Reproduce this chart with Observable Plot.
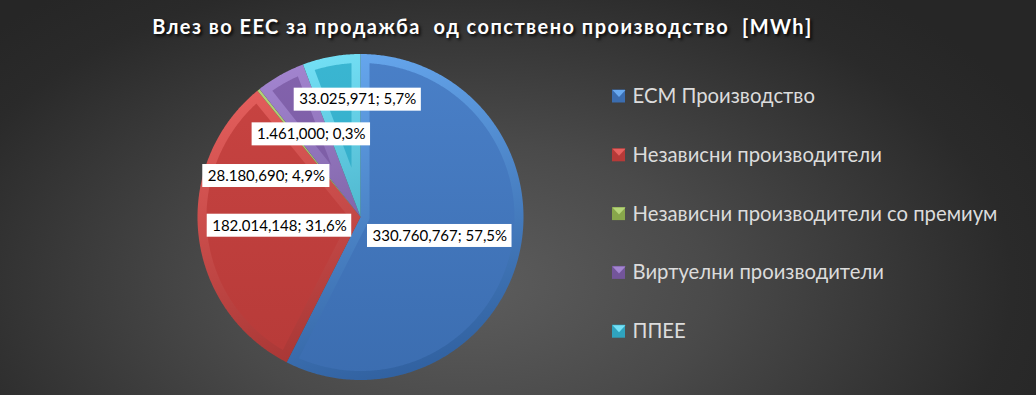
<!DOCTYPE html>
<html><head><meta charset="utf-8">
<script src="https://cdn.jsdelivr.net/npm/d3@7"></script>
<script src="https://cdn.jsdelivr.net/npm/@observablehq/plot@0.6"></script>
<style>
html,body{margin:0;padding:0;width:1036px;height:395px;overflow:hidden;}
body{background: radial-gradient(ellipse 62% 95% at 45% 72%, #5d5d5d 0%, #4a4a4a 38%, #2a2a2a 85%, #262626 100%);}
</style></head><body><div id="chart"></div>
<script>
// ---- data ----
const title = "Влез во ЕЕС за продажба  од сопствено производство  [MWh]";
const categories = ["ЕСМ Производство", "Независни производители", "Независни производители со премиум", "Виртуелни производители", "ППЕЕ"];
const values = [330760767, 182014148, 1461000, 28180690, 33025971];
const valueLabels = ["330.760,767", "182.014,148", "1.461,000", "28.180,690", "33.025,971"];
const percentLabels = ["57,5%", "31,6%", "0,3%", "4,9%", "5,7%"];

// ---- styles / layout ----
const faceTop    = ["#4a80c8", "#c94442", "#9bbb59", "#8363ad", "#3ab6d2"];
const faceBottom = ["#3b6db0", "#b63a38", "#88a74b", "#73559a", "#2fa3be"];
const rimLight   = ["#68a9f0", "#e7605e", "#b5d679", "#a385d0", "#74e0f6"];
const rimDark    = ["#30609f", "#9e302e", "#7d9a43", "#5f4683", "#2a8ea6"];
const W = 1036, H = 395;
const cx = 360, cy = 216.5, R = 163, bevel = 9;
const labelLayout = [{r:0.5, shift:0}, {r:0.5, shift:0}, {r:0.59, shift:8}, {r:0.63, shift:-37}, {r:0.72, shift:9}];
const labelFont = "Lato", labelSize = 15;
const legendX = 612, legendY0 = 96, legendDY = 58.8, sw = 13;

const rad = Math.PI / 180;
const pt = (a, r) => [cx + r * Math.sin(a * rad), cy - r * Math.cos(a * rad)];
const dir = (a) => [Math.sin(a * rad), -Math.cos(a * rad)];

const total = d3.sum(values);
let acc = 0;
const slices = values.map((v, i) => {
  const a0 = acc / total * 360; acc += v; const a1 = acc / total * 360;
  return {i, a0, a1, mid: (a0 + a1) / 2};
});

function arcPts(a0, a1, r, k) {
  const n = Math.max(2, Math.ceil((a1 - a0) / 0.5));
  const out = [];
  for (let j = 0; j <= n; j++) { const [x, y] = pt(a0 + (a1 - a0) * j / n, r); out.push({x, y, k}); }
  return out;
}
function sectorPts(s) {
  return [{x: cx, y: cy, k: s.i}, ...arcPts(s.a0, s.a1, R, s.i)];
}
function facePts(s) {
  const th = s.a1 - s.a0, Ri = R - bevel;
  const d = Math.asin(bevel / Ri) / rad;
  if (th <= 2 * d + 1) return null;
  const pts = arcPts(s.a0 + d, s.a1 - d, Ri, s.i);
  if (th <= 180) {
    const [ux, uy] = dir(s.mid); const L = bevel / Math.sin(th / 2 * rad);
    pts.push({x: cx + ux * L, y: cy + uy * L, k: s.i});
  } else {
    const n = 30;
    for (let j = 0; j <= n; j++) {
      const a = (s.a1 - 90) + ((s.a0 + 90) - (s.a1 - 90)) * j / n;
      const [ux, uy] = dir(a); pts.push({x: cx + ux * bevel, y: cy + uy * bevel, k: s.i});
    }
  }
  return pts;
}

// labels
const canvas = document.createElement("canvas").getContext("2d");
canvas.font = `${labelSize}px ${labelFont}`;
const labels = slices.map(s => {
  const L = labelLayout[s.i];
  const [x, y] = pt(s.mid + L.shift, L.r * R);
  const text = `${valueLabels[s.i]}; ${percentLabels[s.i]}`;
  const w = canvas.measureText(text).width;
  return {x, y, text, x1: x - w / 2 - 5, x2: x + w / 2 + 5, y1: y - 11.5, y2: y + 11.5};
});

// legend
const legend = categories.map((c, i) => ({i, name: c, x: legendX, y: legendY0 + i * legendDY}));
const swatchSq = legend.map(d => ({x1: d.x, x2: d.x + sw, y1: d.y - sw / 2, y2: d.y + sw / 2, i: d.i}));
const swatchTri = legend.map(d => [
  {x: d.x, y: d.y - sw / 2}, {x: d.x + sw, y: d.y - sw / 2}, {x: d.x + sw / 2, y: d.y + 0.5}
]);

const marks = [];
slices.forEach(s => {
  marks.push(Plot.line(sectorPts(s), {x: "x", y: "y", fill: `url(#rim${s.i})`, stroke: "none"}));
  const f = facePts(s);
  if (f) marks.push(Plot.line(f, {x: "x", y: "y", fill: `url(#face${s.i})`, stroke: "none"}));
});
marks.push(Plot.rect(labels, {x1: "x1", x2: "x2", y1: "y1", y2: "y2", fill: "white"}));
marks.push(Plot.text(labels, {x: "x", y: "y", text: "text", fontSize: labelSize, fontFamily: labelFont, fill: "black"}));
swatchSq.forEach((d) => marks.push(Plot.rect([d], {x1: "x1", x2: "x2", y1: "y1", y2: "y2", fill: faceBottom[d.i]})));
swatchTri.forEach((t, i) => marks.push(Plot.line(t, {x: "x", y: "y", fill: rimLight[i], stroke: "none"})));
marks.push(Plot.text(legend, {x: d => d.x + 20, y: "y", text: "name", textAnchor: "start", fontSize: 20.3, fontFamily: "Lato", fill: "#dcdcdc"}));
marks.push(Plot.text([title], {x: () => 482, y: () => 27, text: d => d, fontSize: 20, fontWeight: "bold", fontFamily: "Lato", fill: "white"}));

const svg = Plot.plot({
  width: W, height: H, margin: 0,
  style: {background: "transparent", overflow: "visible"},
  x: {domain: [0, W], range: [0, W], axis: null},
  y: {domain: [0, H], range: [0, H], axis: null},
  marks
});
let defs = `<defs>`;
for (let i = 0; i < values.length; i++) {
  defs += `<linearGradient id="rim${i}" gradientUnits="userSpaceOnUse" x1="${cx - 0.3 * R}" y1="${cy - R}" x2="${cx + 0.3 * R}" y2="${cy + R}">
    <stop offset="0" stop-color="${rimLight[i]}"/><stop offset="1" stop-color="${rimDark[i]}"/></linearGradient>`;
  defs += `<linearGradient id="face${i}" gradientUnits="userSpaceOnUse" x1="${cx}" y1="${cy - R}" x2="${cx}" y2="${cy + R}">
    <stop offset="0" stop-color="${faceTop[i]}"/><stop offset="1" stop-color="${faceBottom[i]}"/></linearGradient>`;
}
defs += `</defs>`;
svg.insertAdjacentHTML("afterbegin", defs);
d3.select(svg).selectAll("text").filter(function() { return this.textContent === title; })
  .style("letter-spacing", "1.45px")
  .style("text-shadow", "2px 2px 3px rgba(0,0,0,0.85)");
document.getElementById("chart").appendChild(svg);
</script></body></html>
